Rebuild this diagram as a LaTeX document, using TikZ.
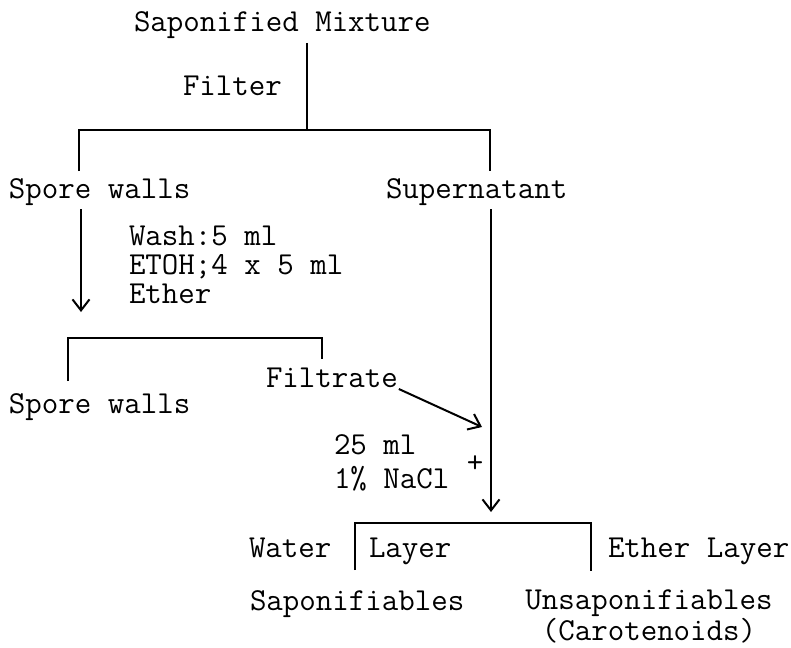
\documentclass[tikz,border=0pt]{standalone}
\usepackage{tikz}
\usetikzlibrary{arrows.meta}

\begin{document}
\begin{tikzpicture}[x=1pt,y=-1pt,line width=2pt,
    >={Straight Barb[length=11pt,width=17pt]},
    lbl/.style={anchor=west,inner sep=0pt,text height=20pt,text depth=0pt,
      font=\fontsize{32}{32}\selectfont\ttfamily},
    blk/.style={inner sep=0pt,font=\fontsize{32}{29}\selectfont\ttfamily}]
  \useasboundingbox (0,0) rectangle (791,647);

  % Texts
  \node[lbl] (mix) at (133,22) {Saponified Mixture};
  \node[lbl] (filter) at (182,86) {Filter};
  \node[lbl] (sw1) at (8,188) {Spore walls};
  \node[lbl] (sup) at (385,188) {Supernatant};
  \node[blk,anchor=north west,align=left] (wash) at (128,225)
    {Wash:5 ml\\ETOH;4 x 5 ml\\Ether};
  \node[lbl] (filt) at (265,377) {Filtrate};
  \node[lbl] (sw2) at (8,403) {Spore walls};
  \node[blk,anchor=north west,align=left,
    font=\fontsize{32}{34}\selectfont\ttfamily] (nacl) at (333,434)
    {25 ml\\1\% NaCl};
  \node[lbl,anchor=center] (plus) at (475,462) {+};
  \node[lbl] (water) at (248,547) {Water};
  \node[lbl] (layer) at (368,547) {Layer};
  \node[lbl] (etherl) at (607,547) {Ether Layer};
  \node[lbl] (sap) at (249,600) {Saponifiables};
  \node[blk,anchor=north,align=center,
    font=\fontsize{32}{27}\selectfont\ttfamily] (unsap) at (649,589)
    {Unsaponifiables\\(Carotenoids)};

  % Corner points
  \coordinate (f1) at (307,130);
  \coordinate (tl) at (79,130);
  \coordinate (tr) at (490,130);
  \coordinate (a1) at (81,312);
  \coordinate (ml1) at (68,338);
  \coordinate (mr1) at (322,338);
  \coordinate (mix2) at (482,427);
  \coordinate (a2) at (491,512);
  \coordinate (bl) at (355,523);
  \coordinate (br) at (591,523);

  % First filtration
  \draw ([yshift=-10pt]mix.south -| f1) -- (f1);
  \draw ([yshift=6pt]sw1.north -| tl) -- (tl) -- (tr) -- ([yshift=6pt]sup.north -| tr);

  % Washing of the walls
  \draw[->] ([yshift=-10pt]sw1.south -| a1) -- (a1);
  \draw ([yshift=11pt]sw2.north -| ml1) -- (ml1) -- (mr1) -- ([yshift=7pt]filt.north -| mr1);
  \draw[->] ([yshift=-1pt]filt.south east) -- (mix2);

  % Partition
  \draw[->] ([yshift=-10pt]sup.south -| a2) -- (a2);
  \draw ([yshift=19pt]sap.north -| bl) -- (bl) -- (br) -- ([yshift=18pt]unsap.north -| br);
\end{tikzpicture}
\end{document}
